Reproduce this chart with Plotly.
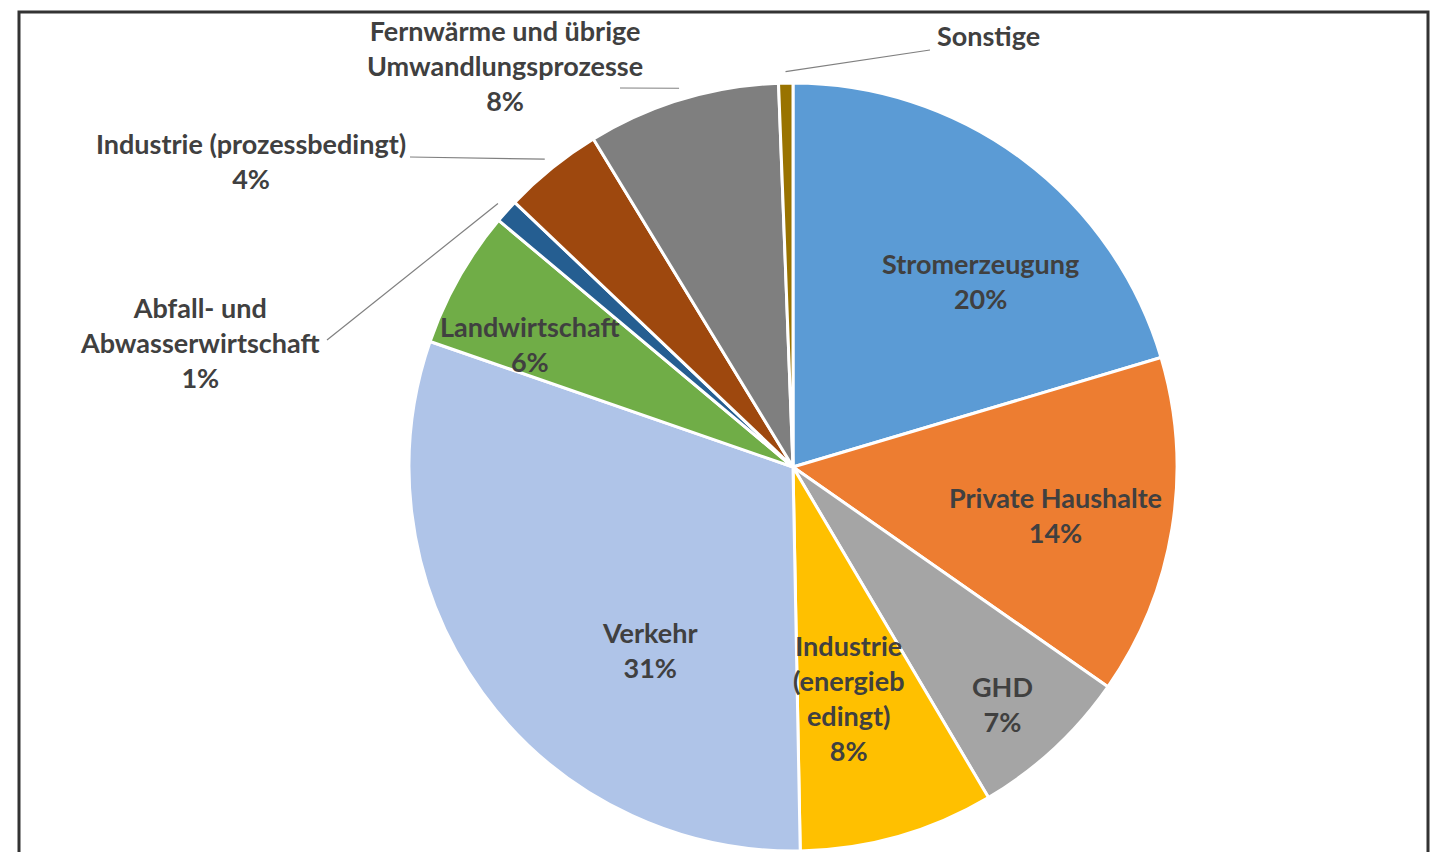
import numpy as np
import plotly.graph_objects as go

# Anteile der Sektoren (Uhrzeigersinn ab 12 Uhr)
sectors = ["Stromerzeugung", "Private Haushalte", "GHD", "Industrie (energiebedingt)",
           "Verkehr", "Landwirtschaft", "Abfall- und Abwasserwirtschaft",
           "Industrie (prozessbedingt)", "Fernwärme und übrige Umwandlungsprozesse", "Sonstige"]
values = [20.4, 14.3, 6.8, 8.2, 30.6, 5.8, 1.0, 4.2, 8.1, 0.6]
colors = ["#5B9BD5", "#ED7D31", "#A5A5A5", "#FFC000", "#AFC4E8",
          "#70AD47", "#255E91", "#9E480E", "#7F7F7F", "#997300"]
# Beschriftung wie im Diagramm (Zeilenumbrüche)
label_lines = ["Stromerzeugung", "Private Haushalte", "GHD", "Industrie<br>(energieb<br>edingt)",
               "Verkehr", "Landwirtschaft", "Abfall- und<br>Abwasserwirtschaft",
               "Industrie (prozessbedingt)", "Fernwärme und übrige<br>Umwandlungsprozesse", "Sonstige"]
show_pct = [True] * 9 + [False]

W, H = 1437, 852
cx, cy, R = 793, 467, 384   # Kreis in Pixeln

# Label-Positionen (Pixel, Mitte des Textblocks)
label_pos = [(980, 281), (1055, 515), (1002, 704), (848, 698), (650, 650),
             (530, 344), (200, 342), (251, 161), (505, 65), (988, 36)]
# Startpunkte der Führungslinien (nur Außenlabels)
leader_start = {6: (327, 340), 7: (410, 157), 8: (620, 88), 9: (930, 50)}


def px(x, y):
    return x / W, 1 - y / H


fig = go.Figure(go.Pie(
    labels=sectors, values=values, sort=False, direction="clockwise", rotation=0,
    marker=dict(colors=colors, line=dict(color="white", width=3)),
    textinfo="none", hoverinfo="label+percent", showlegend=False,
    domain=dict(x=[(cx - R) / W, (cx + R) / W], y=[max(0, 1 - (cy + R) / H), 1 - (cy - R) / H]),
))

total = sum(values)
cum = np.cumsum([0] + values)
for i, name in enumerate(sectors):
    txt = label_lines[i]
    if show_pct[i]:
        txt += f"<br>{round(values[i] / total * 100):.0f}%"
    x, y = px(*label_pos[i])
    fig.add_annotation(x=x, y=y, xref="paper", yref="paper", text=f"<b>{txt}</b>",
                       showarrow=False, xanchor="center", yanchor="middle",
                       font=dict(family="Lato", size=27, color="#404040"))
    if i in leader_start:
        mid = (cum[i] + cum[i + 1]) / 2 / total * 2 * np.pi
        ex = cx + R * 1.03 * np.sin(mid)
        ey = cy - R * 1.03 * np.cos(mid)
        x0, y0 = px(*leader_start[i])
        x1, y1 = px(ex, ey)
        fig.add_shape(type="line", xref="paper", yref="paper", x0=x0, y0=y0, x1=x1, y1=y1,
                      line=dict(color="#808080", width=1.2))

# Rahmen
bx0, by0 = px(19, 12)
bx1, by1 = px(1428, 900)
fig.add_shape(type="rect", xref="paper", yref="paper", x0=bx0, y0=by1, x1=bx1, y1=by0,
              line=dict(color="#333333", width=3), fillcolor="rgba(0,0,0,0)", layer="below")

fig.update_layout(width=W, height=H, margin=dict(l=0, r=0, t=0, b=0),
                  paper_bgcolor="white", plot_bgcolor="white")
fig.write_html("out.html", config={"displayModeBar": False},
               post_script="document.body.style.margin='0';")
